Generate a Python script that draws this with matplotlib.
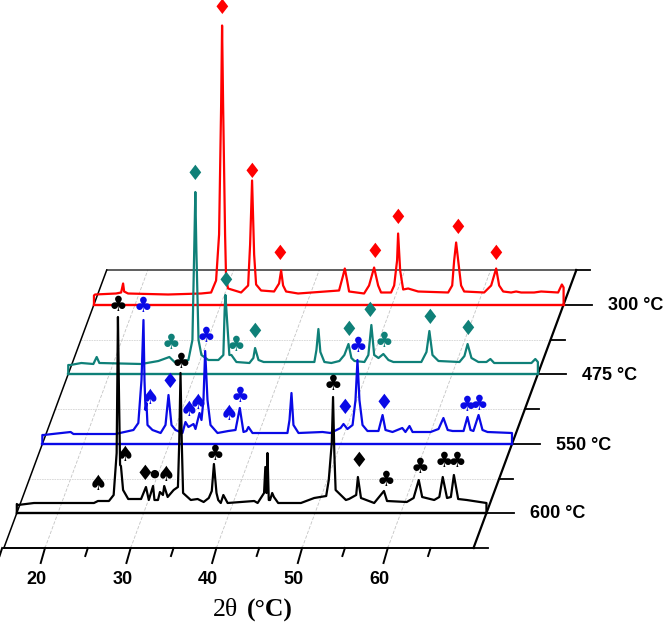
import matplotlib
matplotlib.use('Agg')
import matplotlib.pyplot as plt
from matplotlib.transforms import Affine2D

# 2theta / intensity, intensity in px above each baseline
tt_600 = [15.2,15.33,17.2,24.2,24.67,25.95,26.5,26.85,27.0,27.12,27.25,27.35,27.6,28.2,29.7,30.27,30.6,31.1,31.26,31.67,31.9,32.25,32.4,32.8,33.5,34.0,34.15,34.3,34.45,34.6,35.5,36.3,37.0,37.6,37.95,38.2,38.5,38.7,39.0,39.3,39.8,42.9,43.3,44.05,44.2,44.33,44.45,44.6,44.75,45.0,45.2,45.7,48.35,49.9,51.3,51.6,51.95,52.1,52.25,52.4,53.6,53.96,54.8,55.0,55.36,56.9,58.04,58.4,60.7,61.5,62.1,62.5,63.9,64.5,64.9,65.4,65.85,66.2,66.7,67.7,70.0]
in_600 = [9,8,10,10,12,12,18,60,196,120,48,47,23,14,14,26,13,27,13,13,21,18,27,16,23,26,70,140,70,20,13,14,11,15,22,49,20,13,10,18,10,12,10,20,46,20,60,13,13,20,16,10,10,15,17,33,70,116,60,23,13,14,18,36,15,10,22,12,11,15,33,16,13,16,36,15,16,38,14,13,10]

tt_550 = [15.2,15.33,18.5,18.83,23.73,25.83,26.4,26.77,27.0,27.12,27.24,27.35,27.47,28.05,29.0,29.57,29.92,30.27,30.74,31.55,31.9,32.25,32.84,33.07,33.54,33.77,34.0,34.2,34.47,34.82,35.64,36.9,37.74,38.24,38.67,39.02,39.25,39.72,43.8,44.04,44.27,44.5,45.09,47.9,48.82,50.0,50.34,50.8,51.4,51.74,51.97,52.2,52.56,53.14,54.42,54.9,55.24,56.06,57.2,57.57,58.04,58.4,60.5,61.43,62.0,62.5,63.07,64.35,64.8,65.16,65.5,66.1,66.56,67.15,70.0]
in_550 = [9,9,12,10,10,14,21,64,124,64,34,41,19,14,11,19,49,19,14,11,22,17,20,15,31,24,44,93,44,19,11,13,14,36,12,13,17,11,11,24,51,19,11,12,11,16,20,15,19,44,84,44,19,13,13,29,14,12,16,12,18,12,12,15,26,14,13,13,27,14,13,29,14,12,11]

tt_475 = [15.2,15.45,16.73,18.13,18.52,18.83,23.73,25.72,27.0,27.6,29.22,29.69,29.9,30.03,30.15,30.4,30.74,31.55,32.72,33.3,33.45,33.54,33.73,34.0,34.24,34.82,36.34,36.8,37.0,37.4,38.0,43.92,44.16,44.39,44.62,45.09,45.9,46.84,47.42,47.9,48.24,48.6,49.76,50.22,50.57,50.9,51.4,51.97,52.56,53.14,56.4,57.0,57.34,57.7,58.4,60.85,61.43,61.8,62.25,63.06,64.0,64.46,64.9,69.25,69.7,70.0]
in_475 = [9,9,11,10,17,11,10,13,17,12,14,34,124,182,124,34,19,14,14,19,64,79,54,19,19,12,11,16,26,14,12,12,24,45,22,12,11,13,19,30,16,13,12,19,49,19,16,20,14,12,12,22,43,19,13,12,18,30,16,12,12,15,11,11,15,12]

tt_300 = [15.2,15.33,17.78,18.37,18.6,18.72,19.18,23.85,27.7,28.87,29.45,29.8,30.04,30.15,30.27,30.5,30.62,30.85,32.37,33.19,33.42,33.65,33.89,34.12,34.7,36.22,36.8,37.04,37.27,37.62,39.02,43.8,44.27,44.47,44.74,44.97,46.72,47.3,47.89,48.36,48.7,49.87,50.23,50.57,50.69,50.93,51.28,51.86,53.03,56.53,57.0,57.23,57.46,57.7,58.04,58.4,60.73,61.55,62.13,62.48,62.95,63.88,64.46,65.05,66.56,67.38,69.36,69.8,70.0]
in_300 = [9,10,11,12,21,13,11,10,11,12,24,70,200,279,200,70,25,16,12,19,60,124,50,20,14,13,21,34,19,13,11,14,29,36,24,13,11,19,37,19,12,12,19,44,71,34,15,16,13,12,19,44,62,44,19,13,12,19,36,19,13,12,13,12,12,13,12,20,17]

# phase symbols: 2theta, height above baseline, glyph
sym_600 = [(27.0,208,'♣'),(24.67,29,'♠'),(27.8,58,'♠'),(30.15,39,'♦'),(31.2,39,'●'),(32.6,38,'♠'),(34.35,151,'♣'),(38.3,59,'♣'),(52.1,129,'♣'),(55.1,52,'♦'),(58.3,33,'♣'),(62.25,46,'♣'),(65.0,52,'♣'),(66.55,52,'♣')]
sym_550 = [(27.0,138,'♣'),(27.8,46,'♠'),(30.04,62,'♦'),(32.37,34,'♠'),(33.42,41,'♠'),(34.35,108,'♣'),(37.0,30,'♠'),(38.3,48,'♣'),(50.46,36,'♦'),(52.0,98,'♣'),(55.0,41,'♦'),(64.8,39,'♣'),(66.2,40,'♣')]
sym_475 = [(30.03,200,'♦'),(27.24,31,'♣'),(33.54,93,'♦'),(34.82,29,'♣'),(37.0,42,'♦'),(48.0,44,'♦'),(50.45,63,'♦'),(52.1,33,'♣'),(57.34,56,'♦'),(61.8,45,'♦')]
sym_300 = [(30.15,296,'♦'),(33.65,133,'♦'),(36.9,50,'♦'),(48.0,52,'♦'),(50.7,86,'♦'),(57.7,77,'♦'),(62.13,51,'♦')]

temps = ['300 °C', '475 °C', '550 °C', '600 °C']
colors = ['#ff0000', '#0f8078', '#0a0ae6', '#000000']
depths = [243.5, 174, 104, 35]
series = [(tt_300, in_300, sym_300), (tt_475, in_475, sym_475),
          (tt_550, in_550, sym_550), (tt_600, in_600, sym_600)]
minor_depths = [0, 69, 139, 208.5, 278]
major_ticks = [20, 30, 40, 50, 60]
minor_ticks = [15, 25, 35, 45, 55, 65]

x0, x1 = 15.2, 70.0
px_deg = 8.57
skew = 0.37 / px_deg  # degrees moved per px of depth

fig = plt.figure(figsize=(6.66, 6.26), dpi=100)
ax = fig.add_axes([0, 0, 1, 1])
ax.set_xlim(20 - 45 / px_deg, 20 + (666 - 45) / px_deg)
ax.set_ylim(-78, 548)
ax.axis('off')

# floor and back grid
for t in major_ticks:
    ax.plot([t, t + 278 * skew], [0, 278], color='#c4c4c4', lw=0.6, ls=(0, (4, 2)), zorder=1)
for d in minor_depths[1:4]:
    ax.plot([x0 + d * skew, x1 + d * skew], [d, d], color='#d4d4d4', lw=0.6, ls=(0, (2, 1)), zorder=1)
ax.plot([x0, x1], [0, 0], color='k', lw=1.4, zorder=2)
ax.plot([x0 + 278 * skew, x1 + 278 * skew], [278, 278], color='#333333', lw=1.1, zorder=2)
ax.plot([x0, x0 + 278 * skew], [0, 278], color='k', lw=1.1, zorder=2)
ax.plot([x1, x1 + 278 * skew], [0, 278], color='k', lw=1.6, zorder=2)

# slanted ticks along the front edge
for t in major_ticks:
    ax.plot([t, t - 0.5], [0, -15], color='k', lw=1.4)
    ax.text(t - 0.95, -31, str(t), ha='center', va='center', fontsize=13,
            fontweight='bold', family='Liberation Sans')
for t in minor_ticks:
    ax.plot([t, t - 0.3], [0, -8], color='k', lw=1.4)

# ticks on the right edge
for d in minor_depths:
    s = x1 + d * skew
    ax.plot([s, s + 14 / px_deg], [d, d], color='k', lw=1.3, zorder=2)
for d in depths:
    s = x1 + d * skew
    ax.plot([s, s + 28 / px_deg], [d, d], color='k', lw=1.3, zorder=2)

for k, (tt, inten, syms) in enumerate(series):
    d, c = depths[k], colors[k]
    tr = Affine2D().translate(d * skew, d) + ax.transData
    z = 3 + k
    ax.plot([x0, x1], [0, 0], color=c, lw=1.7, transform=tr, zorder=z)
    ax.plot([x0] + tt + [x1], [0] + inten + [0], color=c, lw=1.6, transform=tr,
            solid_joinstyle='round', zorder=z)
    for t, h, g in syms:
        ax.text(t, h, g, color=c, fontsize=8 if g == '●' else 15, ha='center', va='center',
                transform=tr, family='DejaVu Sans', zorder=z + 0.5)
    ax.text(x1 + 44 / px_deg, -1, temps[k], ha='left', va='center', fontsize=13,
            fontweight='bold', family='Liberation Sans', transform=tr, zorder=z)

ax.text(42.5, -62, '2θ', ha='right', va='center', fontsize=18.5, family='Liberation Serif')
ax.text(43.6, -62, '(°C)', ha='left', va='center', fontsize=18.5, fontweight='bold', family='Liberation Serif')

fig.savefig('out.png', dpi=100)
